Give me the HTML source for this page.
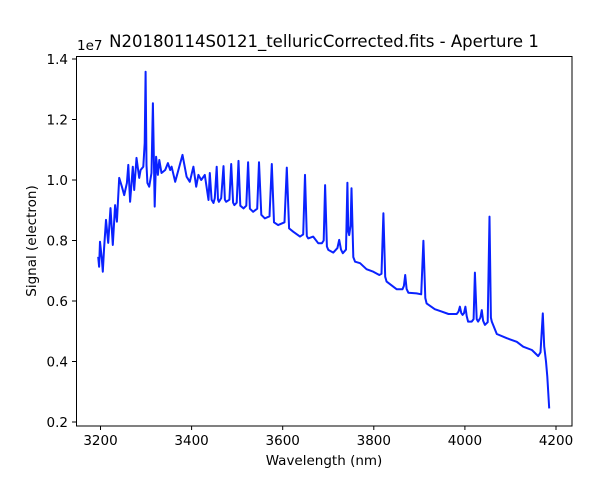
<!DOCTYPE html>
<html><head><meta charset="utf-8"><style>
html,body{margin:0;padding:0;background:#fff;}
svg{display:block;font-family:"DejaVu Sans","Liberation Sans",sans-serif;}
</style></head><body>
<svg id="chart" width="603" height="479" viewBox="0 0 603 479">
<rect x="0" y="0" width="603" height="479" fill="#fff"/>
<text x="324" y="47" font-size="16.5" text-anchor="middle">N20180114S0121_telluricCorrected.fits - Aperture 1</text>
<g id="marks"></g>
<rect x="76.5" y="56.5" width="495.5" height="369.5" fill="none" stroke="#000" stroke-width="1"/>
<g id="xt"></g>
<g id="yt"></g>
<text x="324" y="465" font-size="13.5" text-anchor="middle">Wavelength (nm)</text>
<text transform="translate(36,241) rotate(-90)" font-size="13.5" text-anchor="middle">Signal (electron)</text>
<text x="77" y="50" font-size="13.5">1e7</text>
</svg>
<script>
const wavelength=[3195,3197,3199,3203,3205,3208,3212,3217,3222,3227,3232,3236,3241,3247,3252,3258,3261,3265,3271,3274,3279,3285,3288,3294,3297,3299,3301,3303,3307,3312,3315,3319,3322,3326,3329,3334,3342,3348,3353,3356,3364,3371,3380,3389,3396,3404,3410,3415,3421,3429,3437,3440,3444,3448,3451,3455,3458,3460,3465,3470,3473,3476,3483,3487,3491,3494,3499,3503,3507,3514,3520,3524,3528,3535,3544,3548,3553,3561,3571,3576,3581,3590,3604,3609,3614,3623,3638,3645,3649,3653,3656,3667,3678,3686,3690,3693,3697,3700,3711,3720,3724,3728,3732,3739,3742,3744,3746,3749,3751,3755,3759,3770,3784,3799,3812,3817,3821,3825,3828,3850,3863,3866,3869,3872,3876,3894,3904,3909,3913,3916,3934,3949,3964,3982,3986,3989,3992,3995,3998,4001,4004,4007,4015,4019,4022,4026,4029,4034,4037,4040,4044,4050,4054,4057,4059,4070,4092,4114,4128,4147,4161,4166,4171,4174,4178,4181,4185];
const signal=[0.746,0.713,0.796,0.736,0.697,0.775,0.868,0.792,0.907,0.785,0.917,0.862,1.007,0.978,0.950,0.990,1.050,0.928,1.044,0.967,1.073,1.007,1.033,1.044,1.122,1.358,1.05,0.990,0.978,1.023,1.254,0.912,1.077,1.017,1.066,1.023,1.033,1.056,1.033,1.044,0.994,1.033,1.083,1.011,0.994,1.044,0.978,1.017,1.000,1.017,0.934,1.023,0.935,0.924,0.94,1.044,0.935,0.928,0.94,1.046,0.935,0.928,0.935,1.053,0.925,0.917,0.925,1.063,0.915,0.906,0.915,1.059,0.905,0.895,0.905,1.059,0.885,0.873,0.88,1.053,0.86,0.851,0.86,1.041,0.84,0.829,0.813,0.82,1.017,0.815,0.807,0.813,0.791,0.791,0.80,0.983,0.78,0.769,0.760,0.775,0.802,0.77,0.758,0.77,0.991,0.83,0.818,0.85,0.973,0.745,0.730,0.725,0.705,0.697,0.686,0.69,0.890,0.68,0.664,0.639,0.639,0.65,0.686,0.64,0.627,0.625,0.622,0.799,0.61,0.592,0.573,0.565,0.557,0.557,0.565,0.581,0.56,0.554,0.56,0.581,0.55,0.532,0.532,0.54,0.694,0.54,0.532,0.545,0.570,0.535,0.521,0.53,0.879,0.545,0.532,0.491,0.477,0.465,0.449,0.438,0.418,0.43,0.559,0.45,0.40,0.350,0.245];
const xTicks=[3200,3400,3600,3800,4000,4200];
const yTicks=[0.2,0.4,0.6,0.8,1.0,1.2,1.4];
const yTickLabels=["0.2","0.4","0.6","0.8","1.0","1.2","1.4"];
const NS='http://www.w3.org/2000/svg';
function xs(v){return 100.5+(v-3200)*0.4555;}
function ys(v){return 59+(1.4-v)*302.5;}
const marks=document.getElementById('marks');
const line=document.createElementNS(NS,'polyline');


line.setAttribute('points',wavelength.map((w,i)=>xs(w).toFixed(1)+','+ys(signal[i]).toFixed(1)).join(' '));
line.setAttribute('fill','none');line.setAttribute('stroke','#0a22ff');line.setAttribute('stroke-width','2');line.setAttribute('stroke-linejoin','round');
marks.appendChild(line);
const xt=document.getElementById('xt');
xTicks.forEach(t=>{
 const l=document.createElementNS(NS,'line');
 
 
 const x=xs(t);l.setAttribute('x1',x);l.setAttribute('x2',x);l.setAttribute('y1',426);l.setAttribute('y2',430);l.setAttribute('stroke','#000');
 xt.appendChild(l);
 const tx=document.createElementNS(NS,'text');
 
 
 tx.setAttribute('x',x);tx.setAttribute('y',445);tx.setAttribute('font-size','13.5');tx.setAttribute('text-anchor','middle');tx.textContent=t;
 xt.appendChild(tx);
});
const yt=document.getElementById('yt');
yTicks.forEach((t,i)=>{
 const l=document.createElementNS(NS,'line');
 
 
 const y=ys(t);l.setAttribute('x1',72);l.setAttribute('x2',76.5);l.setAttribute('y1',y);l.setAttribute('y2',y);l.setAttribute('stroke','#000');
 yt.appendChild(l);
 const tx=document.createElementNS(NS,'text');
 
 
 tx.setAttribute('x',68);tx.setAttribute('y',y+5);tx.setAttribute('font-size','13.5');tx.setAttribute('text-anchor','end');tx.textContent=yTickLabels[i];
 yt.appendChild(tx);
});
</script>
</body></html>
